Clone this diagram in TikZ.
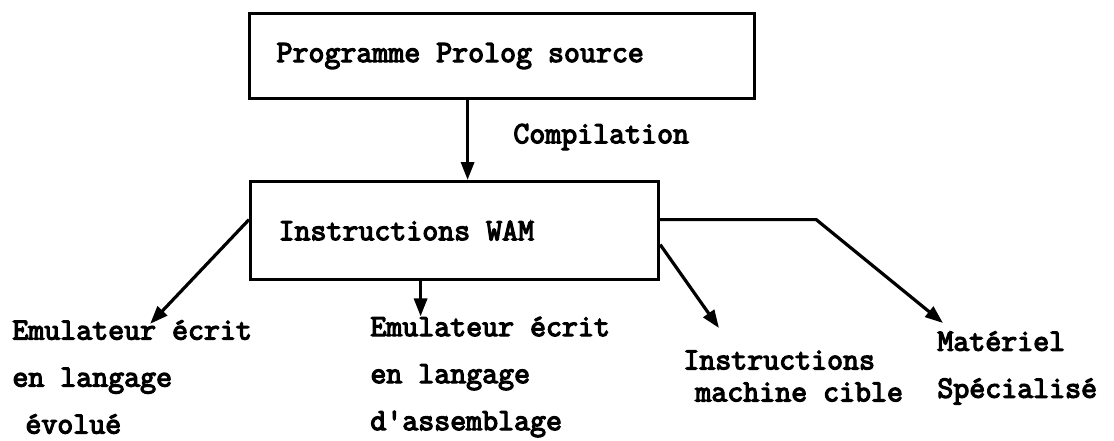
\documentclass[tikz,border=0pt]{standalone}
\usepackage{fontspec}
\newfontfamily\machine{Latin Modern Mono}[FakeBold=4]
\usetikzlibrary{arrows.meta}
\begin{document}
\begin{tikzpicture}[
            x=0.5pt, y=-0.5pt,
            every node/.style={font=\machine\fontsize{15.5}{23.5}\selectfont, inner sep=2pt},
            boite/.style={draw, line width=1.6pt, anchor=north west},
            libelle/.style={anchor=west, align=left},
            fleche/.style={draw, line width=1.6pt, -{Triangle[length=9pt,width=6.5pt]}}
            ]
        \useasboundingbox (0,0) rectangle (1114,440);
        \node[boite, inner xsep=13.5pt, minimum height=42.5pt] (prog) at (248,12) {\makebox[225.5pt][l]{Programme Prolog source}};
        \node[boite, inner xsep=14pt, minimum height=49pt] (wam) at (249,180) {\makebox[176pt][l]{Instructions WAM}};
        \node[anchor=west] (compil) at (509,137) {Compilation};
        \node[libelle] (emuevol) at (8,377) {Emulateur écrit\\en langage\\\hspace*{6.5pt}évolué};
        \node[libelle] (emuasm) at (366,377) {Emulateur écrit\\en langage\\d'assemblage};
        \node[libelle] (cible) at (679,376) {Instructions\\[-7.5pt]\hspace*{6pt}machine cible};
        \node[libelle] (materiel) at (933,368) {Matériel\\Spécialisé};
        \coordinate (coude) at ([xshift=78pt,yshift=5.5pt]wam.east);
        \draw[fleche] ([xshift=-17.25pt]prog.south) -- ([xshift=-17.25pt]prog.south |- wam.north);
        \draw[fleche] ([yshift=5.5pt]wam.west) -- ([xshift=9pt,yshift=-4pt]emuevol.north);
        \draw[fleche] ([xshift=-17pt]wam.south) -- ([xshift=-17pt,yshift=-2pt]wam.south |- emuasm.north);
        \draw[fleche] ([yshift=-7pt]wam.east) -- ([xshift=20pt,yshift=9pt]cible.north west);
        \draw[fleche] ([yshift=5.5pt]wam.east) -- (coude) -- ([xshift=5pt,yshift=2pt]materiel.north west);
\end{tikzpicture}
\end{document}
